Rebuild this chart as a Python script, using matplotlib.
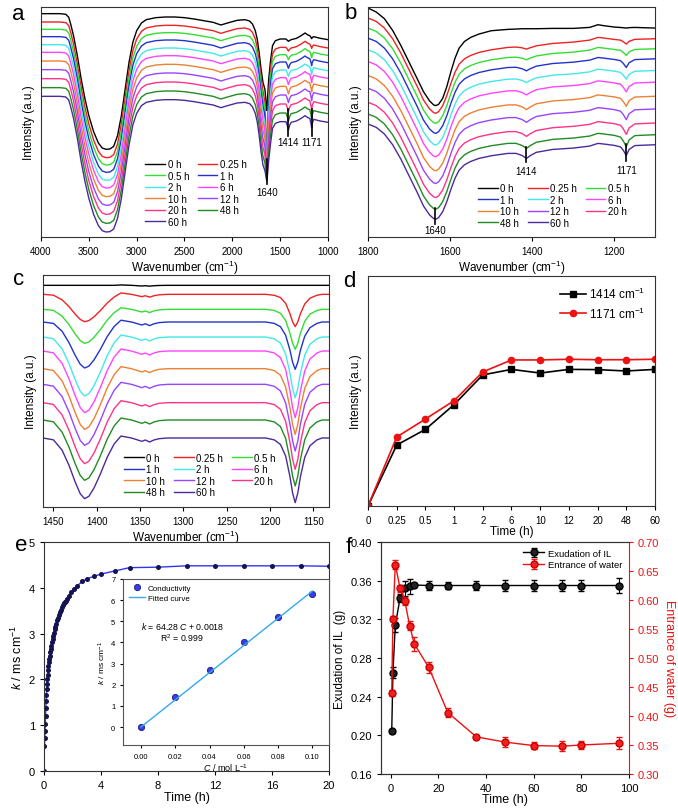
import numpy as np
import matplotlib.pyplot as plt

plt.rcParams['font.family'] = 'Liberation Sans'
plt.rcParams['mathtext.fontset'] = 'custom'
plt.rcParams['mathtext.rm'] = 'Liberation Sans'
plt.rcParams['mathtext.it'] = 'Liberation Sans:italic'
plt.rcParams['axes.linewidth'] = 0.8
plt.rcParams['axes.edgecolor'] = '#333333'
plt.rcParams['xtick.direction'] = 'out'
plt.rcParams['ytick.direction'] = 'out'
plt.rcParams['xtick.major.size'] = 3
plt.rcParams['ytick.major.size'] = 3

# ---- shared legend data ----
times = ['0 h', '0.25 h', '0.5 h', '1 h', '2 h', '6 h', '10 h', '12 h', '20 h', '48 h', '60 h']
colors = ['#000000', '#ee2222', '#33dd33', '#2233cc', '#44e8e8', '#ff44ff',
          '#ee8033', '#9944ff', '#ff3388', '#228b22', '#4b2a9a']

# ---- panel a: full spectra (0 h curve, arbitrary units) ----
wn_a = [4000, 3800, 3740, 3710, 3690, 3660, 3620, 3580, 3540, 3500,
        3450, 3400, 3360, 3320, 3280, 3240, 3200, 3160, 3120, 3080,
        3040, 3000, 2950, 2900, 2800, 2700, 2600, 2500, 2400, 2300,
        2200, 2120, 2050, 1950, 1870, 1820, 1790, 1760, 1740, 1720,
        1700, 1680, 1660, 1650, 1645, 1640, 1635, 1630, 1620, 1600,
        1580, 1550, 1500, 1450, 1440, 1425, 1414, 1400, 1385, 1330,
        1280, 1240, 1210, 1190, 1178, 1171, 1164, 1150, 1080, 1000]
base_a = [670, 670, 668, 659, 639, 604, 544, 474, 414, 364,
          316, 282, 267, 263, 264, 272, 304, 364, 444, 524,
          584, 619, 642, 652, 658, 660, 660, 658, 654, 649,
          644, 636, 642, 650, 652, 648, 639, 619, 594, 554,
          504, 464, 450, 445, 442, 440, 445, 455, 480, 530,
          574, 589, 594, 594, 594, 593, 593, 592, 592, 596,
          604, 612, 606, 604, 603, 603, 602, 601, 596, 592]
offset_a = [0, -25, -47, -69, -93, -116, -142, -168, -195, -222, -248]
dip1640_a_wn = [1660, 1650, 1645, 1640, 1635, 1630, 1620]
dip1640_a_fr = [0.1, 0.5, 0.85, 1.0, 0.85, 0.5, 0.12]
depth1640_a = [60, 181, 179, 167, 148, 130, 109, 88, 66, 44, 23]
dip1414_a_wn = [1425, 1414, 1400]
dip1414_a_fr = [0.45, 1.0, 0.35]
depth1414_a = [6, 10, 14, 18, 18, 20, 22, 22, 22, 24, 24]
dip1171_a_wn = [1178, 1171, 1164]
dip1171_a_fr = [0.5, 1.0, 0.45]
depth1171_a = [8, 12, 18, 20, 22, 24, 26, 26, 28, 28, 28]

# ---- panel b: 1800-1100 region (depth below each curve's start) ----
wn_b = [1800, 1780, 1760, 1740, 1720, 1700, 1680, 1665, 1650, 1640,
        1635, 1628, 1618, 1608, 1598, 1588, 1578, 1565, 1550, 1530,
        1500, 1460, 1440, 1425, 1414, 1405, 1390, 1350, 1300, 1260,
        1240, 1225, 1200, 1185, 1178, 1171, 1164, 1150, 1100]
shape_b = [0, 10, 30, 62, 105, 155, 205, 245, 272, 283,
           285, 280, 262, 232, 195, 162, 138, 122, 112, 103,
           95, 88, 86, 85, 85, 84, 82, 76, 72, 66,
           58, 60, 64, 64, 64, 64, 64, 63, 62]
shape_b_0h = [0, 12, 32, 67, 112, 162, 212, 250, 278, 290,
              292, 288, 270, 235, 190, 150, 120, 100, 88, 78,
              68, 64, 63, 62, 62, 62, 62, 61, 61, 58,
              50, 53, 57, 58, 58, 58, 58, 58, 60]
start_b = [685, 655, 625, 595, 560, 525, 483, 445, 403, 368, 338]
dip1414_b_wn = [1440, 1425, 1414, 1405, 1390]
dip1414_b_fr = [0.1, 0.5, 1.0, 0.6, 0.15]
depth1414_b = [0, 8, 10, 13, 13, 15, 17, 17, 17, 18, 18]
dip1171_b_wn = [1185, 1178, 1171, 1164, 1150]
dip1171_b_fr = [0.15, 0.5, 1.0, 0.4, 0.05]
depth1171_b = [2, 14, 18, 24, 24, 27, 28, 30, 32, 34, 30]

# ---- panel c: 1460-1130 region ----
wn_c = [1462, 1450, 1440, 1432, 1425, 1419, 1414, 1409, 1403, 1396,
        1388, 1380, 1372, 1366, 1360, 1355, 1348, 1344, 1339, 1334,
        1328, 1318, 1300, 1280, 1260, 1240, 1220, 1205, 1195, 1188,
        1182, 1177, 1174, 1171, 1168, 1165, 1160, 1154, 1146, 1140, 1132]
level_c = [665, 638, 593, 555, 510, 468, 415, 368, 313, 261, 207]
dip1414_c_wn = [1450, 1440, 1432, 1425, 1419, 1414, 1409, 1403, 1396, 1388, 1380]
dip1414_c_fr = [0.03, 0.2, 0.45, 0.72, 0.92, 1.0, 0.96, 0.82, 0.6, 0.32, 0.1]
depth1414_c = [0, 82, 102, 138, 177, 185, 182, 183, 183, 181, 182]
dip1171_c_wn = [1195, 1188, 1182, 1177, 1174, 1171, 1168, 1165, 1160, 1154, 1146]
dip1171_c_fr = [0.03, 0.1, 0.28, 0.6, 0.85, 1.0, 0.85, 0.6, 0.3, 0.12, 0.03]
depth1171_c = [0, 97, 120, 142, 182, 200, 197, 200, 200, 198, 194]
small_c_wn = [1372, 1366, 1355, 1348, 1344, 1339, 1334, 1328]
small_c_dp = [-6, -3, 4, 10, 6, 12, 6, 2]
small_c_amp = [0.2, 0.7, 0.8, 0.9, 1, 1, 1, 1, 1, 1, 1]

# ---- panel d ----
d_ticks = ['0', '0.25', '0.5', '1', '2', '6', '10', '12', '20', '48', '60']
d_1414 = [0, 0.265, 0.333, 0.441, 0.570, 0.594, 0.578, 0.594, 0.593, 0.587, 0.594]
d_1171 = [0, 0.300, 0.378, 0.458, 0.583, 0.635, 0.635, 0.638, 0.636, 0.636, 0.638]

# ---- panel e ----
t_e = [0, 0.03, 0.05, 0.07, 0.09, 0.11, 0.13, 0.15, 0.17, 0.19,
       0.21, 0.23, 0.25, 0.28, 0.31, 0.34, 0.37, 0.40, 0.44, 0.48,
       0.52, 0.56, 0.60, 0.65, 0.70, 0.75, 0.80, 0.86, 0.92, 0.98,
       1.04, 1.10, 1.17, 1.24, 1.31, 1.38, 1.45, 1.52, 1.60, 1.75,
       1.90, 2.10, 2.35, 2.70, 3.05, 3.50, 4.00, 5.00, 6.00, 8.00,
       10, 12, 14, 16, 18, 20]
k_e = [0, 0.54, 0.72, 0.88, 1.02, 1.20, 1.38, 1.52, 1.66, 1.78,
       1.90, 2.00, 2.10, 2.20, 2.30, 2.38, 2.45, 2.52, 2.60, 2.67,
       2.74, 2.81, 2.88, 2.95, 3.02, 3.09, 3.15, 3.22, 3.29, 3.35,
       3.41, 3.47, 3.52, 3.57, 3.62, 3.66, 3.69, 3.72, 3.76, 3.83,
       3.90, 3.97, 4.05, 4.14, 4.20, 4.25, 4.30, 4.37, 4.44, 4.45,
       4.48, 4.48, 4.48, 4.48, 4.48, 4.47]
c_ins = [0.00, 0.02, 0.04, 0.06, 0.08, 0.10]
k_ins = [0.0, 1.4, 2.7, 4.0, 5.2, 6.3]
slope, intercept = 64.28, 0.0018

# ---- panel f ----
t_f = [0.5, 1, 2, 4, 6, 8, 10, 16, 24, 36, 48, 60, 72, 80, 96]
il = [0.204, 0.265, 0.314, 0.342, 0.352, 0.354, 0.3555, 0.355, 0.355, 0.355, 0.355, 0.355, 0.355, 0.355, 0.355]
il_err = [0.002, 0.006, 0.007, 0.004, 0.008, 0.008, 0.002, 0.005, 0.004, 0.005, 0.006, 0.006, 0.006, 0.006, 0.008]
water = [0.439, 0.568, 0.661, 0.620, 0.598, 0.556, 0.524, 0.484, 0.406, 0.364, 0.355, 0.349, 0.348, 0.350, 0.353]
water_err = [0.005, 0.005, 0.008, 0.006, 0.007, 0.008, 0.012, 0.009, 0.007, 0.004, 0.008, 0.006, 0.009, 0.007, 0.010]


def apply_dip(y, grid, wns, fracs, depth):
    for w, f in zip(wns, fracs):
        y[grid.index(w)] -= f * depth


fig = plt.figure(figsize=(6.78, 8.12), dpi=100)
W, H = 678.0, 812.0


def box(l, t, r, b):
    return [l / W, 1 - b / H, (r - l) / W, (b - t) / H]


tick_fs, lab_fs, leg_fs = 7, 8.5, 7
wn_label = 'Wavenumber (cm$^{-1}$)'

# ================= a =================
ax = fig.add_axes(box(41, 8, 328, 238))
for i in range(11):
    y = np.array(base_a, float) + offset_a[i]
    apply_dip(y, wn_a, dip1640_a_wn, dip1640_a_fr, depth1640_a[i])
    apply_dip(y, wn_a, dip1414_a_wn, dip1414_a_fr, depth1414_a[i])
    apply_dip(y, wn_a, dip1171_a_wn, dip1171_a_fr, depth1171_a[i])
    ax.plot(wn_a, y, color=colors[i], lw=1.0, label=times[i])
ax.plot([1637, 1637], [159, 234], color='k', lw=1.2)
ax.plot([1414, 1414], [304, 384], color='k', lw=1.2)
ax.plot([1171, 1171], [304, 384], color='k', lw=1.2)
ax.text(1637, 134, '1640', ha='center', va='center', fontsize=7)
ax.text(1414, 284, '1414', ha='center', va='center', fontsize=7)
ax.text(1171, 284, '1171', ha='center', va='center', fontsize=7)
ax.set_xlim(4000, 1000)
ax.set_ylim(0, 690)
ax.set_xticks([4000, 3500, 3000, 2500, 2000, 1500, 1000])
ax.set_yticks([])
ax.tick_params(labelsize=tick_fs)
ax.set_xlabel(wn_label, fontsize=lab_fs, labelpad=1)
ax.set_ylabel('Intensity (a.u.)', fontsize=lab_fs, labelpad=4)
h, l = ax.get_legend_handles_labels()
order = [0, 2, 4, 6, 8, 10, 1, 3, 5, 7, 9]
ax.legend([h[j] for j in order], [l[j] for j in order], ncol=2, fontsize=leg_fs,
          frameon=False, loc='upper left', bbox_to_anchor=(0.35, 0.355),
          borderaxespad=0, handlelength=2.0, handletextpad=0.3,
          labelspacing=0.15, columnspacing=0.9)

# ================= b =================
ax = fig.add_axes(box(368, 8, 655, 238))
for i in range(11):
    shp = shape_b_0h if i == 0 else shape_b
    y = start_b[i] - np.array(shp, float)
    apply_dip(y, wn_b, dip1414_b_wn, dip1414_b_fr, depth1414_b[i])
    apply_dip(y, wn_b, dip1171_b_wn, dip1171_b_fr, depth1171_b[i])
    ax.plot(wn_b, y, color=colors[i], lw=1.0, label=times[i])
ax.plot([1637, 1637], [38, 88], color='k', lw=1.2)
ax.plot([1414, 1414], [223, 268], color='k', lw=1.2)
ax.plot([1171, 1171], [228, 278], color='k', lw=1.2)
ax.text(1637, 20, '1640', ha='center', va='center', fontsize=7)
ax.text(1414, 198, '1414', ha='center', va='center', fontsize=7)
ax.text(1171, 201, '1171', ha='center', va='center', fontsize=7)
ax.set_xlim(1800, 1101)
ax.set_ylim(0, 688)
ax.set_xticks([1800, 1600, 1400, 1200])
ax.set_yticks([])
ax.tick_params(labelsize=tick_fs)
ax.set_xlabel(wn_label, fontsize=lab_fs, labelpad=1)
ax.set_ylabel('Intensity (a.u.)', fontsize=lab_fs, labelpad=4)
h, l = ax.get_legend_handles_labels()
order = [0, 3, 6, 9, 1, 4, 7, 10, 2, 5, 8]
ax.legend([h[j] for j in order], [l[j] for j in order], ncol=3, fontsize=leg_fs,
          frameon=False, loc='upper left', bbox_to_anchor=(0.37, 0.25),
          borderaxespad=0, handlelength=2.0, handletextpad=0.3,
          labelspacing=0.15, columnspacing=0.9)

# ================= c =================
ax = fig.add_axes(box(43, 276, 329, 508))
for i in range(11):
    y = np.full(len(wn_c), float(level_c[i]))
    apply_dip(y, wn_c, dip1414_c_wn, dip1414_c_fr, depth1414_c[i])
    apply_dip(y, wn_c, dip1171_c_wn, dip1171_c_fr, depth1171_c[i])
    apply_dip(y, wn_c, small_c_wn, small_c_dp, small_c_amp[i])
    ax.plot(wn_c, y, color=colors[i], lw=1.0, label=times[i])
ax.set_xlim(1462, 1132)
ax.set_ylim(0, 696)
ax.set_xticks([1450, 1400, 1350, 1300, 1250, 1200, 1150])
ax.set_yticks([])
ax.tick_params(labelsize=tick_fs)
ax.set_xlabel(wn_label, fontsize=lab_fs, labelpad=1)
ax.set_ylabel('Intensity (a.u.)', fontsize=lab_fs, labelpad=4)
h, l = ax.get_legend_handles_labels()
ax.legend([h[j] for j in order], [l[j] for j in order], ncol=3, fontsize=leg_fs,
          frameon=False, loc='upper left', bbox_to_anchor=(0.27, 0.25),
          borderaxespad=0, handlelength=2.0, handletextpad=0.3,
          labelspacing=0.15, columnspacing=0.9)

# ================= d =================
ax = fig.add_axes(box(368, 277, 655, 507))
xd = np.arange(len(d_ticks))
ax.plot(xd, d_1414, color='black', marker='s', ms=4, lw=1.2, label='1414 cm$^{-1}$')
ax.plot(xd, d_1171, color='#ee1111', marker='o', ms=4.5, lw=1.2, label='1171 cm$^{-1}$')
ax.set_xlim(0, 10)
ax.set_ylim(0, 1)
ax.set_xticks(xd)
ax.set_xticklabels(d_ticks)
ax.set_yticks([])
ax.tick_params(labelsize=tick_fs)
ax.set_xlabel('Time (h)', fontsize=lab_fs, labelpad=0)
ax.set_ylabel('Intensity (a.u.)', fontsize=lab_fs, labelpad=4)
ax.legend(loc='upper right', fontsize=8.5, frameon=False, handlelength=2.2,
          handletextpad=0.3, labelspacing=0.4, borderaxespad=0.4)

# ================= e =================
ax = fig.add_axes(box(44, 543, 329, 772))
ax.plot(t_e, k_e, color='#3333ee', lw=1.0, marker='o', ms=2.6,
        mfc='#141450', mec='#141450')
ax.set_xlim(0, 20)
ax.set_ylim(0, 5)
ax.set_xticks([0, 4, 8, 12, 16, 20])
ax.set_yticks([0, 1, 2, 3, 4, 5])
ax.tick_params(labelsize=8)
ax.set_xlabel('Time (h)', fontsize=9, labelpad=1)
ax.set_ylabel('$k$ / ms cm$^{-1}$', fontsize=9, labelpad=3)

axi = fig.add_axes(box(123, 580, 329, 746))
c_line = np.array([c_ins[0], c_ins[-1]])
axi.plot(c_ins, k_ins, 'o', ms=4.5, color='#3b3be8', mec='#1c1c80', mew=0.6,
         label='Conductivity')
axi.plot(c_line, slope * c_line + intercept, color='#33aaee', lw=1.0,
         label='Fitted curve')
axi.set_xlim(-0.0105, 0.1097)
axi.set_ylim(-0.85, 7)
axi.set_xticks(c_ins)
axi.set_xticklabels(['%.2f' % c for c in c_ins])
axi.set_yticks(range(8))
axi.tick_params(labelsize=5.5, length=2)
for s in axi.spines.values():
    s.set_color('#555555')
axi.set_xlabel('$C$ / mol L$^{-1}$', fontsize=6.5, labelpad=1)
axi.set_ylabel('$k$ / ms cm$^{-1}$', fontsize=6, labelpad=2)
axi.text(0.0245, 4.79, '$k$ = 64.28 $C$ + 0.0018', ha='center', va='center', fontsize=6.3)
axi.text(0.024, 4.27, 'R$^2$ = 0.999', ha='center', va='center', fontsize=6.3)
axi.legend(loc='upper left', fontsize=5.8, frameon=False, handlelength=2.0,
           handletextpad=0.4, labelspacing=0.2, borderaxespad=0.3)

# ================= f =================
ax = fig.add_axes(box(381, 543, 629, 775))
ax2 = ax.twinx()
e1 = ax.errorbar(t_f, il, yerr=il_err, color='black', marker='o', ms=5,
                 mfc='#222222', mec='black', capsize=2, lw=1.0, elinewidth=0.8,
                 label='Exudation of IL')
e2 = ax2.errorbar(t_f, water, yerr=water_err, color='#ee1111', marker='o', ms=5,
                  mfc='#ee2222', mec='#cc0000', capsize=2, lw=1.0, elinewidth=0.8,
                  label='Entrance of water')
ax.set_xlim(-4, 100)
ax.set_ylim(0.16, 0.40)
ax2.set_ylim(0.30, 0.70)
ax.set_xticks([0, 20, 40, 60, 80, 100])
ax.set_yticks([0.16, 0.20, 0.24, 0.28, 0.32, 0.36, 0.40])
ax.set_yticklabels(['%.2f' % v for v in [0.16, 0.20, 0.24, 0.28, 0.32, 0.36, 0.40]])
ax2.set_yticks([0.30, 0.35, 0.40, 0.45, 0.50, 0.55, 0.60, 0.65, 0.70])
ax2.set_yticklabels(['%.2f' % v for v in [0.30, 0.35, 0.40, 0.45, 0.50, 0.55, 0.60, 0.65, 0.70]])
ax.tick_params(labelsize=8)
ax2.tick_params(axis='y', labelsize=8, colors='#ee1111')
ax.spines['right'].set_visible(False)
ax2.spines['right'].set_color('#ee1111')
ax.set_xlabel('Time (h)', fontsize=9, labelpad=0)
ax.set_ylabel('Exudation of IL  (g)', fontsize=8.5, labelpad=3)
ax2.set_ylabel('Entrance of water (g)', fontsize=9, color='#ee1111',
               rotation=270, labelpad=11)
ax2.legend([e1, e2], ['Exudation of IL', 'Entrance of water'], loc='upper right',
           fontsize=6.8, frameon=False, handlelength=2.2, handletextpad=0.4,
           labelspacing=0.3, borderaxespad=0.3)

# panel letters
for letter, x, yb in [('a', 12, 20), ('b', 345, 19), ('c', 13, 285),
                      ('d', 343, 287), ('e', 15, 551), ('f', 346, 553)]:
    fig.text(x / W, 1 - yb / H, letter, fontsize=16, va='baseline', ha='left')

fig.savefig('out.png', dpi=100)
